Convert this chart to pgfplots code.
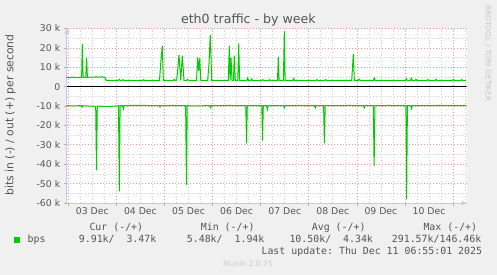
\documentclass[border=0pt]{standalone}
\usepackage{fontspec}
\setmainfont{DejaVu Sans}
\setmonofont{DejaVu Sans Mono}
\usepackage{pgfplots}
\pgfplotsset{compat=1.18}
\usetikzlibrary{arrows.meta}
\definecolor{bg}{HTML}{F0F0F0}
\definecolor{munin}{HTML}{00CC00}
\definecolor{axblue}{HTML}{C4C8F0}
\definecolor{txt}{HTML}{555555}
\definecolor{majgrid}{HTML}{F09898}
\definecolor{mingrid}{HTML}{CFCFCF}
\begin{document}
\begin{tikzpicture}[x=1pt,y=1pt]
\fill[bg] (0,0) rectangle (497,275);
\begin{axis}[
  at={(66.7pt,72pt)}, anchor=south west,
  scale only axis, width=400pt, height=174.5pt,
  axis background/.style={fill=white},
  xmin=-0.8, xmax=198.8, ymin=-60000, ymax=30000,
  axis lines=left,
  axis line style={draw=axblue, line width=0.8pt, -{Latex[length=5pt,width=5pt]}},
  xtick={0,24,...,192}, xticklabels={},
  minor xtick={6,12,18,30,36,42,54,60,66,78,84,90,102,108,114,126,132,138,150,156,162,174,180,186,198},
  extra x ticks={12,36,60,84,108,132,156,180},
  extra x tick labels={03 Dec,04 Dec,05 Dec,06 Dec,07 Dec,08 Dec,09 Dec,10 Dec},
  extra x tick style={grid=none, major tick length=0pt},
  scaled y ticks=false,
  ytick={-60000,-50000,-40000,-30000,-20000,-10000,0,10000,20000,30000},
  yticklabels={-60 k,-50 k,-40 k,-30 k,-20 k,-10 k,0,10 k,20 k,30 k},
  minor ytick={-55000,-45000,-35000,-25000,-15000,-5000,5000,15000,25000},
  grid=both,
  major grid style={majgrid, line width=0.7pt, dash pattern=on 1pt off 2pt},
  minor grid style={mingrid, line width=0.7pt, dash pattern=on 1pt off 2pt},
  tick align=outside, major tick length=3pt, minor tick length=0pt,
  x tick style={majgrid, line width=0.7pt},
  y tick style={gray!60, line width=0.7pt},
  ticklabel style={font=\fontsize{9.3}{11}\selectfont, text=txt},
  xticklabel style={yshift=-1pt},
  legend style={at={(axis description cs:-0.1318,-0.2103)}, anchor=west,
    draw=none, fill=none, inner sep=0pt, outer sep=0pt,
    nodes={inner sep=0pt, font=\fontsize{9.9}{12}\ttfamily, text=txt},
    column sep=0pt},
  legend cell align=left,
]
\addplot[black, line width=1.1pt, forget plot] coordinates {(-0.8,0) (198.8,0)};
\addplot[munin, line width=1pt,
  legend image code/.code={\fill[munin] (0pt,-2.65pt) rectangle (5.3pt,2.65pt); \path (12.7pt,0pt);}]
 table {
-0.8 4800
0.85 4600
1.85 5000
2.84 4700
3.84 4800
5.34 4700
6.64 4800
6.99 22000
7.39 4800
8.73 4800
9.13 15000
9.53 4800
11.33 4900
13.42 4900
13.82 5200
14.32 4900
16.42 4900
16.82 5200
17.32 4900
18.31 4800
18.81 3300
25.05 3300
25.45 3800
25.85 3300
26.9 3300
27.30 3600
27.7 3300
37.23 3300
37.62 3600
38.02 3300
45.51 3300
46.26 14000
46.91 21000
47.41 3300
52.49 3300
52.89 3800
53.29 3300
54.09 3300
55.24 16300
56.09 3300
56.89 16000
57.73 3300
59.18 3300
59.58 3700
59.98 3300
63.97 3300
64.57 15100
65.07 8000
65.57 14600
66.12 3300
69.56 3300
70.21 12000
70.86 26600
71.56 3300
79.84 3300
80.34 21000
80.74 3300
81.19 15000
81.69 3300
82.43 3300
82.83 16000
83.33 3300
84.58 3300
85.03 22300
85.48 3300
89.12 3300
89.52 4500
89.92 3300
91.12 3300
91.52 4000
91.92 3300
96.61 3300
97.01 3600
97.41 3300
100.1 3300
100.5 3600
100.9 3300
104.39 3300
104.79 15400
105.19 3300
107.34 3300
107.79 28600
108.19 3300
112.08 3300
112.48 4200
112.88 3300
123.7 3300
124.1 3600
124.5 3300
128.04 3300
128.44 3600
128.84 3300
141.42 3300
142.22 16800
142.72 3300
144.81 3300
145.21 3800
145.61 3300
152.3 3300
152.7 4400
153.1 3300
168.27 3300
168.67 4200
169.07 3300
170.76 3300
171.16 4300
171.56 3300
173.11 3300
173.51 3800
173.91 3300
178.95 3300
179.35 3700
179.75 3300
183.09 3300
183.49 3800
183.89 3300
191.72 3300
192.12 3800
192.52 3300
195.91 3300
196.31 3700
196.71 3300
198.5 3300
};
\addlegendentry{bps}
\addplot[munin, line width=1pt, forget plot] table {
-0.8 -9800
2 -9900
6.44 -9800
6.84 -10600
7.24 -9800
10 -10000
13.3 -10100
13.67 -10100
14.07 -43200
14.47 -10000
18 -10200
22 -10100
24.70 -9900
25.05 -9800
25.45 -54000
25.85 -9800
27.05 -9800
27.45 -11500
27.85 -9800
32 -9600
38 -9700
45.35 -9800
45.75 -10500
46.15 -9800
52 -9700
58.55 -9800
58.95 -50700
59.35 -9800
62 -9900
70.67 -9800
71.07 -10900
71.47 -9800
80 -9700
88.57 -9800
88.92 -29300
89.32 -9800
96.56 -9800
96.91 -27800
97.31 -9800
98.94 -9800
99.34 -11800
99.74 -9800
107.39 -9800
107.79 -10900
108.19 -9800
115 -9700
122.86 -9800
123.26 -10900
123.66 -9800
127.39 -9800
127.79 -29300
128.19 -9800
140 -9700
147.3 -9800
147.7 -10900
148.1 -9800
152.20 -9800
152.60 -40900
153.00 -9800
160 -9700
168.47 -9800
168.82 -57900
169.22 -9800
170.86 -9800
171.26 -11300
171.66 -9800
185 -9700
198.5 -9800
};
\end{axis}
\node[anchor=base, inner sep=0pt, font=\fontsize{12.6}{14}\selectfont, text=txt] at (248.4,251.7) {eth0 traffic - by week};
\node[rotate=90, inner sep=0pt, font=\fontsize{10.8}{12}\selectfont, text=txt] at (10.5,160) {bits in (-) / out (+) per second};
\node[rotate=-90, inner sep=0pt, font=\fontsize{7.5}{9}\selectfont, text=black!22] at (488,221.5) {RRDTOOL / TOBI OETIKER};
\begin{scope}[every node/.style={inner sep=0pt, anchor=base west, font=\fontsize{9.9}{12}\ttfamily, text=txt}]
\node at (89.3,44.3) {Cur (-/+)};
\node at (200.7,44.3) {Min (-/+)};
\node at (311.7,44.3) {Avg (-/+)};
\node at (423.3,44.3) {Max (-/+)};
\node at (78.7,32.7) {9.91k/~~3.47k};
\node at (186.7,32.7) {5.48k/~~1.94k};
\node at (289.3,32.7) {10.50k/~~4.34k};
\node at (391.7,32.7) {291.57k/146.46k};
\node[anchor=base east] at (482.3,20.7) {Last update: Thu Dec 11 06:55:01 2025};
\end{scope}
\node[anchor=base, inner sep=0pt, font=\fontsize{7.6}{9}\selectfont, text=black!20] at (248,8) {Munin 2.0.75};
\pgfresetboundingbox
\path[use as bounding box] (0,0) rectangle (497,275);
\end{tikzpicture}
\end{document}
